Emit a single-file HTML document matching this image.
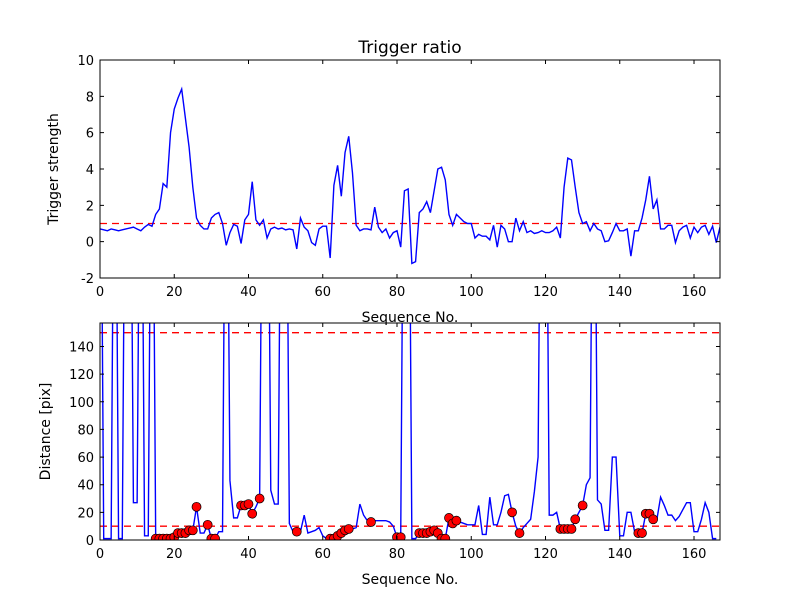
<!DOCTYPE html>
<html><head><meta charset="utf-8"><style>
body{margin:0;background:#fff}
svg text{font-family:"DejaVu Sans","Liberation Sans",sans-serif;fill:#000}
</style></head><body>
<svg id="fig" width="800" height="600" viewBox="0 0 800 600">
<rect width="800" height="600" fill="#fff"/>
<defs>
<clipPath id="c1"><rect x="100" y="60" width="620" height="218"/></clipPath>
<clipPath id="c2"><rect x="100" y="323" width="620" height="217"/></clipPath>
</defs>
<g id="g1"></g><g id="g2"></g>
</svg>
<script>
const ratio=[0.7,0.65,0.6,0.7,0.65,0.6,0.65,0.7,0.75,0.8,0.7,0.6,0.8,0.95,0.85,1.5,1.8,3.2,3.0,6.0,7.3,7.9,8.4,6.8,5.2,3.0,1.3,0.9,0.7,0.7,1.3,1.5,1.6,1.0,-0.2,0.5,0.95,0.85,-0.1,1.2,1.5,3.3,1.2,0.9,1.2,0.2,0.7,0.8,0.7,0.75,0.65,0.7,0.65,-0.4,1.3,0.8,0.6,-0.05,-0.2,0.7,0.85,0.85,-0.9,3.1,4.2,2.5,4.9,5.8,3.8,0.9,0.6,0.7,0.7,0.65,1.9,0.8,0.5,0.7,0.2,0.5,0.6,-0.3,2.8,2.9,-1.2,-1.1,1.6,1.8,2.2,1.6,2.8,4.0,4.1,3.4,1.5,0.9,1.5,1.3,1.1,1.0,1.0,0.2,0.4,0.3,0.3,0.1,0.9,-0.3,0.9,0.7,0,0,1.3,0.6,1.1,0.5,0.6,0.45,0.5,0.6,0.5,0.5,0.6,0.8,0.2,3.0,4.6,4.5,3.0,1.6,1.0,1.1,0.6,1.0,0.7,0.6,0.0,0.05,0.5,1.0,0.6,0.6,0.7,-0.8,0.6,0.6,1.3,2.3,3.6,1.8,2.3,0.7,0.7,0.9,0.9,-0.05,0.6,0.8,0.9,0.2,0.8,0.5,0.8,0.9,0.4,0.85,-0.05,0.8];
const dist=[1000,1,1,1,1000,1,1,1000,1000,27,27,1000,3,3,1000,1,1,1,1,1,2,5,5,5,7,7,24,5,5,11,1,1,6,6,1000,43,16,16,25,25,26,19,24,30,1000,1000,36,26,26,1000,1000,12,6,6,6,18,5,6,7,9,3,1,1,1,3,5,7,8,8,9,26,18,14,13,14,14,14,14,13,10,2,2,1000,1000,1,1,5,5,5,6,7,5,1,1,16,12,14,13,12,11,11,11,25,4,4,31,11,11,20,32,33,20,10,5,9,12,15,35,60,1000,1000,18,18,20,8,8,8,8,15,20,25,40,45,1000,29,26,7,7,60,60,3,3,20,20,6,5,5,19,19,15,15,31,25,18,18,14,17,22,27,27,6,6,15,27,20,1,1];
const dotIdx=[15,16,17,18,19,20,21,22,23,24,25,26,29,30,31,38,39,40,41,43,53,62,63,64,65,66,67,73,80,81,86,87,88,89,90,91,92,93,94,95,96,111,113,124,125,126,127,128,130,145,146,147,148,149];
const xTicks=[0,20,40,60,80,100,120,140,160];
const y1Ticks=[-2,0,2,4,6,8,10];
const y2Ticks=[0,20,40,60,80,100,120,140];
const thr1=1, thr2=[10,150];
const NS="http://www.w3.org/2000/svg";
const L=100,R=720,XMAX=167;
const sx=v=>L+v*(R-L)/XMAX;
const sy1=v=>278-(v+2)*218/12;
const sy2=v=>540-v*217/157;
function mk(p,t,a){const e=document.createElementNS(NS,t);for(const k in a)e.setAttribute(k,a[k]);p.appendChild(e);return e;}
function axes(g,top,bot,yt,sy,ylab,ylx){
  mk(g,'rect',{x:L,y:top,width:R-L,height:bot-top,fill:'none',stroke:'#000','stroke-width':1});
  xTicks.forEach(t=>{const x=sx(t);
    const a=mk(g,'path',{d:`M${x},${bot}v-4M${x},${top}v4`,stroke:'#000'});
    
    const tx=mk(g,'text',{x:x,y:bot+18,'text-anchor':'middle','font-size':13});tx.textContent=t;
    });
  yt.forEach(t=>{const y=sy(t);
    const a=mk(g,'path',{d:`M${L},${y}h4M${R},${y}h-4`,stroke:'#000'});
    
    const tx=mk(g,'text',{x:L-6,y:y+5,'text-anchor':'end','font-size':13});tx.textContent=t;
    });
  const xl=mk(g,'text',{x:410,y:bot+44,'text-anchor':'middle','font-size':14});xl.textContent='Sequence No.';
  
  const cy=(top+bot)/2;
  const yl=mk(g,'text',{x:ylx,y:cy,'text-anchor':'middle','font-size':14,transform:`rotate(-90 ${ylx} ${cy})`});yl.textContent=ylab;
  
}
const g1=document.getElementById('g1'),g2=document.getElementById('g2');
const th=mk(g1,'line',{x1:L,x2:R,y1:sy1(thr1),y2:sy1(thr1),stroke:'#ff0000','stroke-width':1.3,'stroke-dasharray':'7,5'});

const l1=mk(g1,'polyline',{points:ratio.map((v,i)=>sx(i)+','+sy1(v)).join(' '),fill:'none',stroke:'#0000ff','stroke-width':1.4,'clip-path':'url(#c1)'});

axes(g1,60,278,y1Ticks,sy1,'Trigger strength',58);
const tt=mk(g1,'text',{x:410,y:53,'text-anchor':'middle','font-size':17});tt.textContent='Trigger ratio';

thr2.forEach(v=>{const a=mk(g2,'line',{x1:L,x2:R,y1:sy2(v),y2:sy2(v),stroke:'#ff0000','stroke-width':1.3,'stroke-dasharray':'7,5'});
  });
const l2=mk(g2,'polyline',{points:dist.map((v,i)=>sx(i)+','+sy2(Math.min(v,400))).join(' '),fill:'none',stroke:'#0000ff','stroke-width':1.4,'clip-path':'url(#c2)'});

dotIdx.forEach(i=>{const c=mk(g2,'circle',{cx:sx(i),cy:sy2(dist[i]),r:4.5,fill:'#f00',stroke:'#000','stroke-width':0.7,'clip-path':'url(#c2)'});
  });
axes(g2,323,540,y2Ticks,sy2,'Distance [pix]',50);
</script>
</body></html>
